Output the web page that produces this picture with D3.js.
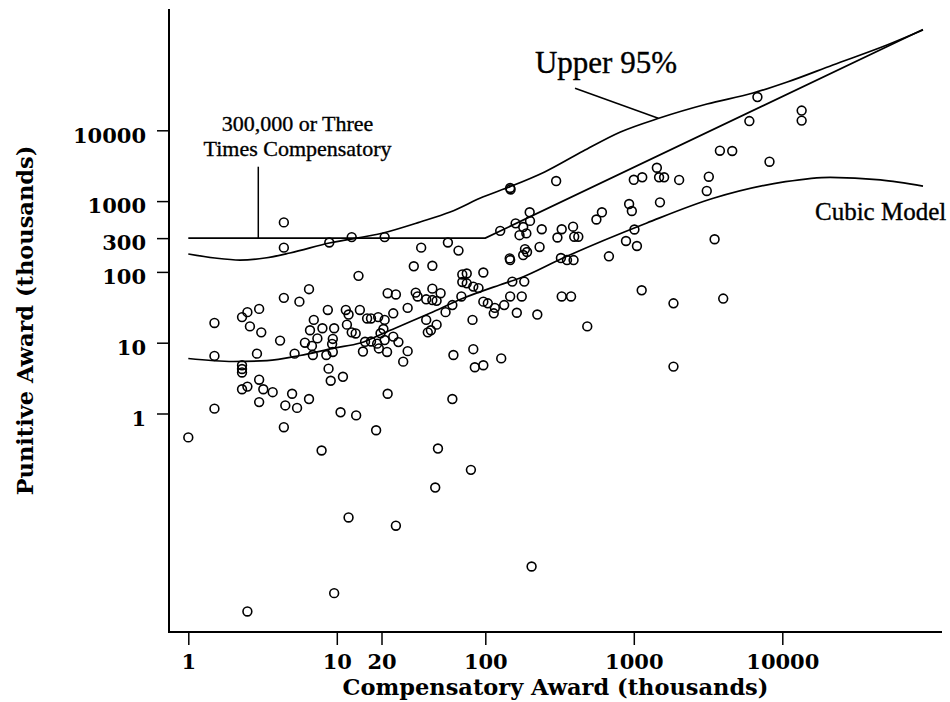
<!DOCTYPE html>
<html><head><meta charset="utf-8">
<script src="https://cdn.jsdelivr.net/npm/d3@7/dist/d3.min.js"></script>
<style>body{margin:0;background:#fff;} svg{display:block;}</style>
</head><body><svg id="c" width="950" height="702"></svg>
<script>
// ---- data (thousands) ----
const compensatory = [1.5,2.5,2.3,2.6,3.1,3.0,4.4,4.4,4.4,5.6,6.5,8.9,12.6,21,14,33,37,56,66,44,70,75,70,75,83,90,97,22,25,34,35,44,50,40,44,47,30,60,54,69,82,7.0,6.6,8.0,9.6,8.7,11.5,14.3,12,16,17,19,21,24,11.7,12.6,40,47,43,41,13.4,
 4.15,6.1,7.4,6.8,9.4,9.3,8.5,9.4,15,15.5,17,18.7,19.7,20.6,21,19.2,21.8,24,26,30,28,61,83,85,97,128,1.5,2.9,5.2,6.9,2.3,2.3,2.3,8.8,9.1,11,3.0,2.3,2.5,3.2,3.7,3.0,5.0,4.5,5.4,6.5,1.5,1.0,4.4,10.6,13.5,22,18.4,7.9,48,60,80,46,12,25,9.6,2.5,1850,205,
 6800,6000,13500,13500,3800,4600,8200,1430,1000,1140,1480,1600,2020,3200,3100,300,147,148,930,970,1500,610,560,126,160,199,200,180,170,189,240,327,390,306,397,423,232,185,191,180,146,147,152,183,97,104,116,114,134,147,176,163,224,327,378,486,323,355,393,680,886,1050,1010,1130,1850,3500,4000];
const punitive = [19,27,23,17,14,30,500,220,43,38,57,260,310,310,88,120,220,260,200,122,92,95,72,69,62,59,98,50,48,51,45,58,50,41,40,39,31,34,27,45,21,21,15,16,16,29,29,29,25,22,22,23,21,26,18,14,21,18,15,14,13.5,
 10.7,10,11.5,9,11.3,9.6,6.7,7.4,7.5,10.3,10.4,9.7,13.6,15.6,10.9,8.3,7.4,12.2,10.2,7.6,5.4,6.7,8.1,4.5,4.8,6.0,6.5,7.0,7.0,6.7,4.8,4.25,3.8,4.3,2.9,3.3,3.0,2.2,2.4,2.2,2.0,1.45,1.9,1.3,1.2,1.6,1.17,0.46,0.64,1.04,0.94,1.9,0.58,0.3,0.32,1.6,0.16,0.09,0.034,0.026,0.0029,0.0016,4.6,0.0069,
 29500,13500,19000,13700,5150,5100,3600,2960,2000,2170,2170,2170,1990,2210,1390,1920,1530,1460,910,725,960,695,550,380,485,695,525,430,330,350,400,400,435,306,314,314,225,210,191,173,155,147,73,73,38,36,31,26,34,45,45,26.5,25,45,45,17,157,147,147,166,273,232,397,55,36,289,42];

const upperX = [1,1.51,2.23,3.28,4.84,8.9,20.5,36.4,58,97,147,251,457,813,1490,3110,6350,10800,21900,50700,88600];
const upperY = [179,157,147,157,185,256,354,507,700,1150,1600,2580,5100,9460,14900,23500,33600,48100,83600,160000,261000];
const cubicX = [1,2.0,3.39,5.65,9.6,14.4,21.7,42.3,70.9,125,170,331,1225,3430,10500,21000,45800,88600];
const cubicY = [5.98,5.43,5.6,6.6,8.4,9.9,14.3,26,42.4,65.3,81.3,156,491,1096,1880,2170,1990,1630];
const capX = [1,100,88500];
const capY = [300,300,265500];

const xTicks = [1,10,20,100,1000,10000];
const yTicks = [1,10,100,300,1000,10000];

// ---- layout ----
const svg = d3.select("#c");
const x = d3.scaleLog().domain([1,10000]).range([188.3,782.3]);
const y = d3.scaleLog().domain([1,10000]).range([413.5,130.3]);
const axL = 169, axB = 632, axT = 9, axR = 942;

svg.append("line").attr("x1",axL).attr("x2",axL).attr("y1",axT).attr("y2",axB+1)
  .attr("stroke","#000").attr("stroke-width",2);
svg.append("line").attr("x1",axL-1).attr("x2",axR).attr("y1",axB).attr("y2",axB)
  .attr("stroke","#000").attr("stroke-width",2);

const gy = svg.append("g").attr("transform",`translate(${axL},0)`)
  .call(d3.axisLeft(y).tickValues(yTicks).tickFormat(d=>String(d)).tickSize(12).tickPadding(11));
gy.select(".domain").remove();
gy.selectAll(".tick line").attr("stroke","#000").attr("stroke-width",1.5);
gy.selectAll(".tick text").attr("font-family","DejaVu Serif").attr("font-weight","bold")
  .attr("font-size",21).attr("dy","0.56em").attr("fill","#000");

const gx = svg.append("g").attr("transform",`translate(0,${axB})`)
  .call(d3.axisBottom(x).tickValues(xTicks).tickFormat(d=>String(d)).tickSize(13).tickPadding(9));
gx.select(".domain").remove();
gx.selectAll(".tick line").attr("stroke","#000").attr("stroke-width",1.5);
gx.selectAll(".tick text").attr("font-family","DejaVu Serif").attr("font-weight","bold")
  .attr("font-size",21).attr("fill","#000");

// axis titles
svg.append("text").attr("x",(axL+axR)/2).attr("y",695).attr("text-anchor","middle")
  .attr("font-family","DejaVu Serif").attr("font-weight","bold").attr("font-size",22.5)
  .text("Compensatory Award (thousands)");
svg.append("text").attr("transform",`translate(33,${(axT+axB)/2}) rotate(-90)`).attr("text-anchor","middle")
  .attr("font-family","DejaVu Serif").attr("font-weight","bold").attr("font-size",22.5)
  .text("Punitive Award (thousands)");

// curves
const line = d3.line().x(d=>x(d[0])).y(d=>y(d[1]));
const drawCurve = (xs, ys, curve) => svg.append("path")
  .attr("d", line.curve(curve)(xs.map((v,i)=>[v,ys[i]])))
  .attr("fill","none").attr("stroke","#000").attr("stroke-width",1.7);
drawCurve(upperX, upperY, d3.curveMonotoneX);
drawCurve(cubicX, cubicY, d3.curveMonotoneX);
drawCurve(capX, capY, d3.curveLinear);

// points
svg.append("g").selectAll("circle").data(compensatory.map((c,i)=>[c,punitive[i]]))
  .join("circle").attr("cx",d=>x(d[0])).attr("cy",d=>y(d[1])).attr("r",4.4)
  .attr("fill","none").attr("stroke","#000").attr("stroke-width",1.6);

// annotations
const lbl = (xv, yv, txt, size, anchor) => svg.append("text").attr("x",x(xv)).attr("y",y(yv))
  .attr("text-anchor",anchor).attr("font-family","Liberation Serif").attr("font-size",size)
  .attr("fill","#000").attr("stroke","#000").attr("stroke-width",0.35).text(txt);
lbl(5.44, 9700, "300,000 or Three", 22, "middle");
lbl(5.44, 4400, "Times Compensatory", 22, "middle");
svg.append("line").attr("x1",x(2.96)).attr("x2",x(2.96)).attr("y1",y(3060)).attr("y2",y(300))
  .attr("stroke","#000").attr("stroke-width",1.5);
lbl(216, 63800, "Upper 95%", 31, "start");
svg.append("line").attr("x1",x(402)).attr("y1",y(39200)).attr("x2",x(1462)).attr("y2",y(14800))
  .attr("stroke","#000").attr("stroke-width",1.5);
lbl(16600, 541, "Cubic Model", 25, "start");
</script></body></html>
